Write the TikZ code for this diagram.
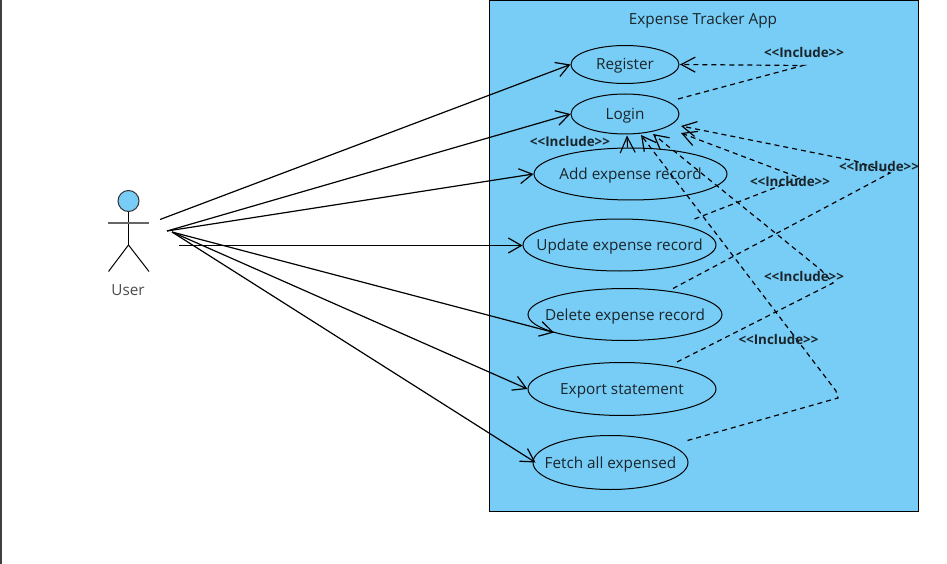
\documentclass[tikz,border=0pt]{standalone}
\usepackage{fontspec}
\setmainfont{Open Sans}
\usetikzlibrary{shapes.geometric,arrows.meta,calc}
\definecolor{sysblue}{HTML}{77CDF6}
\definecolor{ink}{HTML}{1A252B}
\newcommand{\uclabel}[1]{\makebox[0pt]{\smash{\raisebox{-5.5pt}{#1}}}}
\tikzset{
  usecase/.style={ellipse,draw=black,line width=1pt,fill=sysblue,inner sep=0pt,text=ink,font=\fontsize{15.3}{18}\selectfont},
  incl/.style={font=\fontsize{13.4}{15}\selectfont\bfseries,text=ink,inner sep=0pt},
  assoc/.style={black,line width=1.2pt,-{Straight Barb[length=13pt,width=15pt,line width=1.2pt]}},
  dep/.style={black,line width=1.2pt,dash pattern=on 5pt off 4pt,-{Straight Barb[length=14pt,width=15pt,line width=1.2pt]}},
  limb/.style={black,line width=1pt},
}
\begin{document}
\begin{tikzpicture}[x=1pt,y=-1pt]
\useasboundingbox (0,0) rectangle (947,564);
\fill[white] (0,0) rectangle (947,564);
\fill[black!75] (0,0) rectangle (2,564);
% system
\node[draw=black,line width=1pt,fill=sysblue,minimum width=429pt,minimum height=510pt,inner sep=0pt] (sys) at (703.5,256) {};
\node[text=ink,font=\fontsize{15.3}{18}\selectfont,inner sep=0pt] (title) at (703,19.5) {\uclabel{Expense Tracker App}};
% use cases
\node[usecase,minimum width=108pt,minimum height=38pt] (register) at (625,64.5) {\uclabel{Register}};
\node[usecase,minimum width=108pt,minimum height=40pt] (login) at (625,114) {\uclabel{Login}};
\node[usecase,minimum width=193pt,minimum height=52pt] (add) at (630.5,174) {\uclabel{Add expense record}};
\node[usecase,minimum width=193pt,minimum height=52pt] (update) at (619.5,245) {\uclabel{Update expense record}};
\node[usecase,minimum width=194pt,minimum height=52pt] (delete) at (625,314.5) {\uclabel{Delete expense record}};
\node[usecase,minimum width=188pt,minimum height=53pt] (export) at (622,389) {\uclabel{Export statement}};
\node[usecase,minimum width=155pt,minimum height=54pt] (fetch) at (610.5,462.5) {\uclabel{Fetch all expensed}};
% actor
\node[circle,draw=black!80,line width=1pt,fill=sysblue,minimum size=21pt,inner sep=0pt] (head) at (128.5,201) {};
\coordinate (hip) at (128.5,245);
\coordinate (armL) at (108,223);
\coordinate (armR) at (149,223);
\coordinate (legL) at (108.5,271.5);
\coordinate (legR) at (149,271.5);
\draw[limb] (head.south) -- (hip);
\draw[black!60,line width=1.4pt] (armL) -- (armR);
\draw[limb] (legL) -- (hip) -- (legR);
\node[text=black!70,font=\fontsize{15.3}{18}\selectfont,inner sep=0pt] (user) at (128,290) {\uclabel{User}};
% actor associations
\coordinate (s1) at (160,219.5);
\coordinate (s2) at (167,231);
\coordinate (s3) at (179,245.5);
\coordinate (s4) at (172,232);
\draw[assoc] (s1) -- (register.west);
\draw[assoc] (s2) -- (login.west);
\draw[assoc] (s2) -- (add.west);
\draw[assoc,line width=1pt] (s3) -- (update.west |- s3);
\draw[assoc] (s4) -- ($(delete.center)+(-71,18)$);
\draw[assoc] (s4) -- (export.west);
\draw[assoc] (s4) -- ($(fetch.center)+(-75,0)$);
% include bends
\coordinate (b1) at (803,65.5);
\coordinate (b2) at (800,178);
\coordinate (b3a) at (890,173);
\coordinate (b3b) at (855,161);
\coordinate (b4a) at (833,283);
\coordinate (b4b) at (821,270);
\coordinate (b5a) at (838,398);
\coordinate (b5b) at (836,391);
\draw[dep] ($(login.center)+(53,-15)$) -- (b1) -- ($(register.center)+(55,0)$);
\draw[dep] ($(add.center)+(64,45)$) -- (b2) -- ($(login.center)+(56,19)$);
\draw[dep] ($(delete.center)+(48,-26)$) -- (b3a) -- (b3b) -- ($(login.center)+(56,12)$);
\draw[dep] ($(export.center)+(55,-27)$) -- (b4a) -- (b4b) -- ($(login.center)+(28,20)$);
\draw[dep] ($(fetch.center)+(77,-22)$) -- (b5a) -- (b5b) -- ($(login.center)+(16,21)$);
\draw[black,line width=1.1pt,-{Straight Barb[length=16pt,width=15pt,line width=1.1pt]}] ($(add.north)+(-3,0)$) -- ($(login.south)+(2,1)$);
% include labels
\node[incl] (i1) at (804,52) {<{}<Include>{}>};
\node[incl] (i2) at (570,141) {<{}<Include>{}>};
\node[incl] (i3) at (790,181) {<{}<Include>{}>};
\node[incl] (i4) at (879,166) {<{}<Include>{}>};
\node[incl] (i5) at (804,276) {<{}<Include>{}>};
\node[incl] (i6) at (778.5,339.5) {<{}<Include>{}>};
\end{tikzpicture}
\end{document}
